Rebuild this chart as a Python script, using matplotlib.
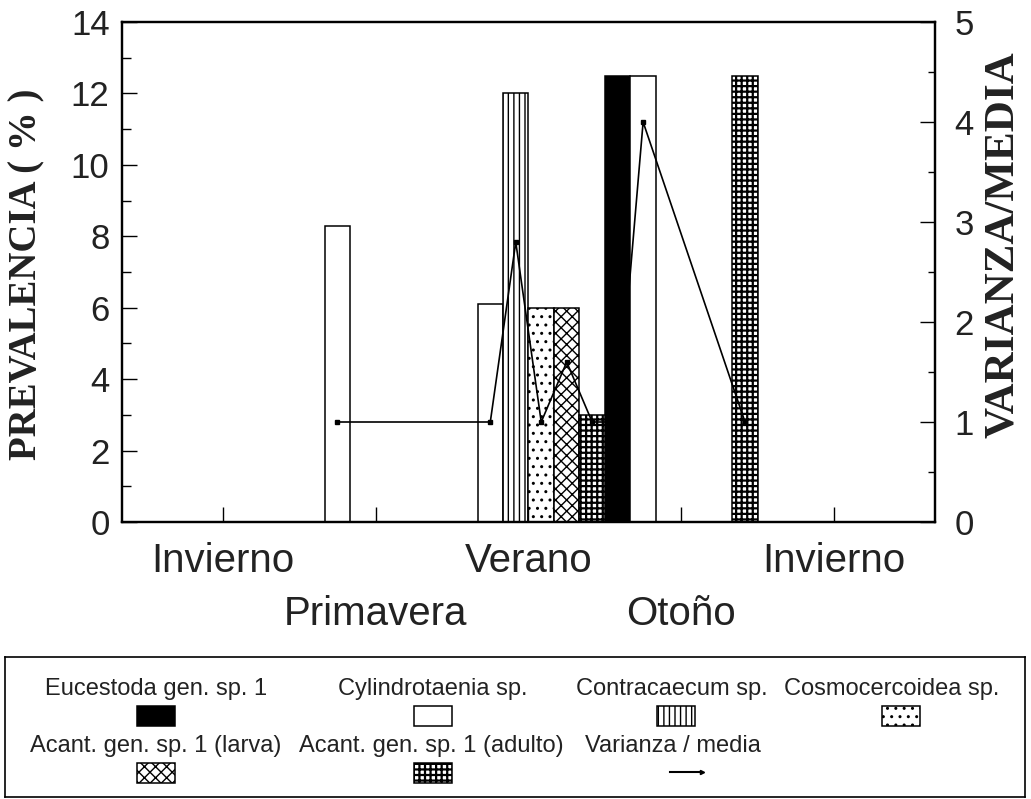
import numpy as np
import matplotlib.pyplot as plt
from matplotlib.patches import Rectangle
from matplotlib.ticker import MultipleLocator

plt.rcParams['font.family'] = ['Liberation Sans', 'DejaVu Sans']

# Prevalence (%) per season, one list per parasite
seasons = ['Invierno', 'Primavera', 'Verano', 'Otoño', 'Invierno']
species = ['Eucestoda gen. sp. 1', 'Cylindrotaenia sp.', 'Contracaecum sp.',
           'Cosmocercoidea sp.', 'Acant. gen. sp. 1 (larva)',
           'Acant. gen. sp. 1 (adulto)']
eucestoda = [0, 0, 0, 12.5, 0]
cylindrotaenia = [0, 8.3, 6.1, 12.5, 0]
contracaecum = [0, 0, 12.0, 0, 0]
cosmocercoidea = [0, 0, 6.0, 0, 0]
acant_larva = [0, 0, 6.0, 0, 0]
acant_adulto = [0, 0, 3.0, 12.5, 0]
prevalence = [eucestoda, cylindrotaenia, contracaecum, cosmocercoidea,
              acant_larva, acant_adulto]

# Variance / mean ratio (nan where the parasite was not found)
nan = np.nan
vm_eucestoda = [nan, nan, nan, 1.0, nan]
vm_cylindrotaenia = [nan, 1.0, 1.0, 4.0, nan]
vm_contracaecum = [nan, nan, 2.8, nan, nan]
vm_cosmocercoidea = [nan, nan, 1.0, nan, nan]
vm_acant_larva = [nan, nan, 1.6, nan, nan]
vm_acant_adulto = [nan, nan, 1.0, 1.0, nan]
ratios = [vm_eucestoda, vm_cylindrotaenia, vm_contracaecum,
          vm_cosmocercoidea, vm_acant_larva, vm_acant_adulto]

styles = [
    dict(facecolor='black', hatch=None),
    dict(facecolor='white', hatch=None),
    dict(facecolor='white', hatch='|||'),
    dict(facecolor='white', hatch='..'),
    dict(facecolor='white', hatch='xxx'),
    dict(facecolor='white', hatch='+++', hatch_linewidth=1.6),
]

fig = plt.figure(figsize=(10.31, 7.99), dpi=100)
ax = fig.add_axes([122 / 1031, 1 - 522 / 799, 813 / 1031, 500 / 799])
ax2 = ax.twinx()

x = np.arange(1, len(seasons) + 1)
width = 1 / 6
offsets = [(i - 2.5) * width for i in range(len(species))]

for vals, off, st in zip(prevalence, offsets, styles):
    vals = np.array(vals, dtype=float)
    keep = vals > 0
    ax.bar(x[keep] + off, vals[keep], width=width, edgecolor='black',
           linewidth=1.1, **st)

# ratio line runs through every bar that has a value, left to right
pts = []
for r, off in zip(ratios, offsets):
    for xi, v in zip(x, r):
        if not np.isnan(v):
            pts.append((xi + off, v))
pts.sort()
px, py = zip(*pts)
ax2.plot(px, py, color='black', linewidth=1.2, marker='s', markersize=2.5)

ax.set_xlim(0.34, 5.66)
ax.set_ylim(0, 14)
ax2.set_ylim(0, 5)

# seasons alternate between two label rows
ax.set_xticks(x[::2])
ax.set_xticklabels(seasons[::2])
ax.set_xticks(x[1::2], minor=True)
ax.set_xticklabels(seasons[1::2], minor=True)
ax.tick_params(axis='x', which='both', direction='in', length=10.5,
               width=1, top=False, labelsize=29, labelcolor='#222222')
ax.tick_params(axis='x', which='major', pad=14.5)
ax.tick_params(axis='x', which='minor', pad=52.5)

ax.yaxis.set_major_locator(MultipleLocator(2))
ax.yaxis.set_minor_locator(MultipleLocator(1))
ax.tick_params(axis='y', which='both', direction='in', right=False,
               width=1, labelsize=25, labelcolor='#222222', pad=9)
ax.tick_params(axis='y', which='major', length=11)
ax.tick_params(axis='y', which='minor', length=6.5)

ax2.yaxis.set_major_locator(MultipleLocator(1))
ax2.yaxis.set_minor_locator(MultipleLocator(0.5))
ax2.tick_params(axis='y', which='both', direction='in', left=False,
                width=1, labelsize=25, labelcolor='#222222', pad=14)
ax2.tick_params(axis='y', which='major', length=11)
ax2.tick_params(axis='y', which='minor', length=5)

for a in (ax, ax2):
    for s in a.spines.values():
        s.set_linewidth(1.6)

serif = ['Liberation Serif', 'DejaVu Serif']
fig.text(27 / 1031, 1 - 274 / 799, 'PREVALENCIA ( % )', rotation=90,
         ha='center', va='center', fontsize=28, fontweight='bold',
         family=serif, color='#222222')
fig.text(1003 / 1031, 1 - 245 / 799, 'VARIANZA/MEDIA', rotation=90,
         ha='center', va='center', fontsize=31, fontweight='bold',
         family=serif, color='#222222')

# boxed key under the chart, laid out in pixel units
lax = fig.add_axes([5 / 1031, 1 - 797 / 799, 1020 / 1031, 140 / 799])
lax.set_xlim(5, 1025)
lax.set_ylim(797, 657)
lax.set_xticks([])
lax.set_yticks([])
for s in lax.spines.values():
    s.set_linewidth(1.2)

text_pos = [(156, 689), (433, 689), (672, 689), (892, 689),
            (156, 746), (431, 746), (673, 746)]
swatch_pos = [(156, 715.5), (433, 715.5), (676, 715.5), (901, 715.5),
              (156, 772.5), (433, 772.5), (687, 772.5)]
labels = species + ['Varianza / media']

for i, lab in enumerate(labels):
    tx, ty = text_pos[i]
    lax.text(tx, ty, lab, ha='center', va='center', fontsize=17,
             color='#222222')
    sx, sy = swatch_pos[i]
    if i < len(species):
        lax.add_patch(Rectangle((sx - 19, sy - 10), 38, 20,
                                edgecolor='black', linewidth=1.1,
                                **styles[i]))
    else:
        lax.plot([sx - 17, sx + 15], [sy, sy], color='black', linewidth=1.5,
                 marker='>', markevery=[1], markersize=3)

fig.savefig('out.png', dpi=100)
